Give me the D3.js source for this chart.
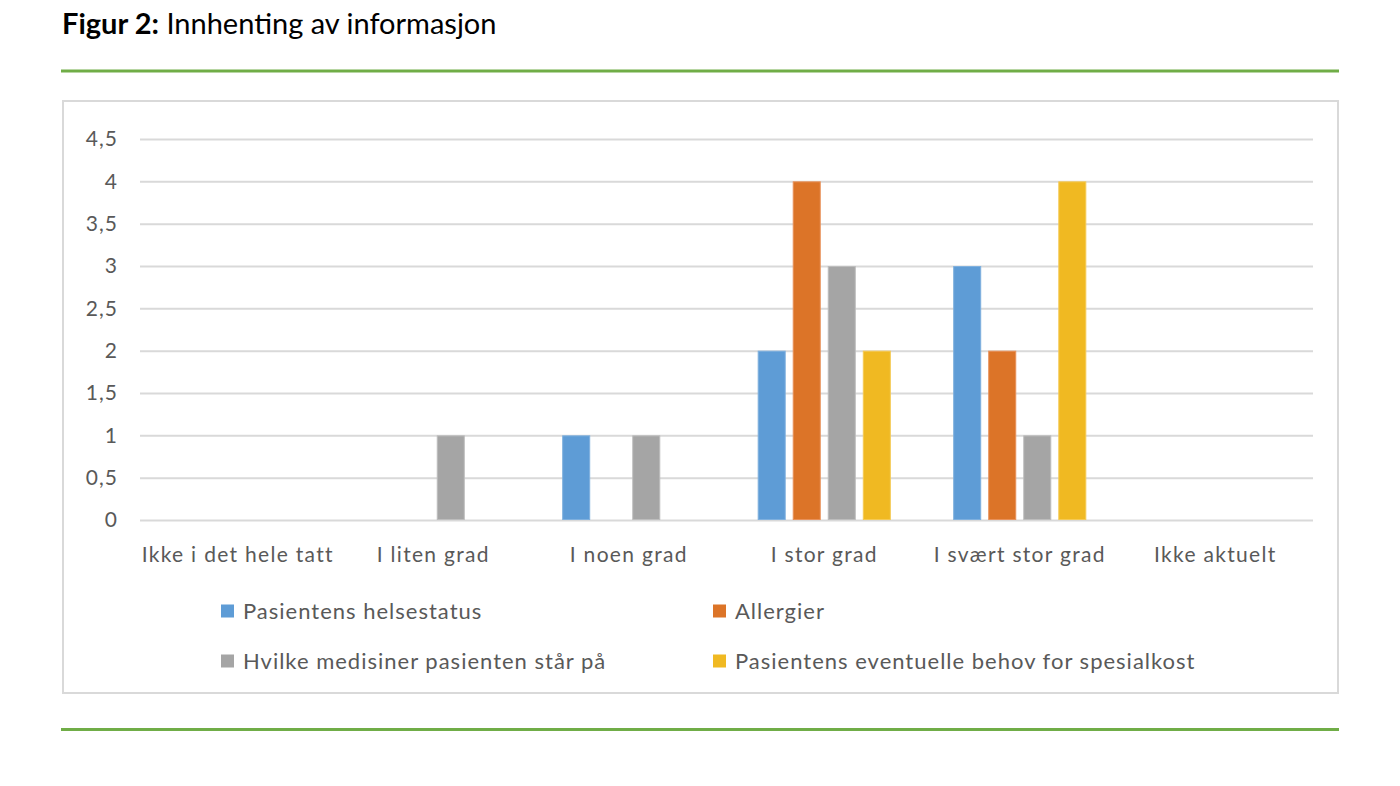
<!DOCTYPE html>
<html><head><meta charset="utf-8">
<script src="https://cdn.jsdelivr.net/npm/d3@7"></script>
<style>
html,body{margin:0;padding:0;background:#fff;}
svg{display:block;}
</style></head>
<body>
<svg id="chart" width="1400" height="786"></svg>
<script>
const categories = ["Ikke i det hele tatt","I liten grad","I noen grad","I stor grad","I svært stor grad","Ikke aktuelt"];
const seriesNames = ["Pasientens helsestatus","Allergier","Hvilke medisiner pasienten står på","Pasientens eventuelle behov for spesialkost"];
const helsestatus = [0,0,1,2,3,0];
const allergier = [0,0,0,4,2,0];
const medisiner = [0,1,1,3,1,0];
const spesialkost = [0,0,0,2,4,0];
const yTicks = [0,0.5,1,1.5,2,2.5,3,3.5,4,4.5];
const colors = ["#5E9CD6","#DC7428","#A5A5A5","#F0B922"];
const strokes = ["#7FB0DE","#E8915A","#BDBDBD","#F5CA55"];

const seriesValues = [helsestatus, allergier, medisiner, spesialkost];
const font = "Lato, 'Open Sans', sans-serif";
const svg = d3.select("#chart");

// Title
const title = svg.append("text").attr("x",62).attr("y",34).attr("font-family",font).attr("font-size",29).attr("fill","#000");
title.append("tspan").attr("font-weight","bold").text("Figur 2:");
title.append("tspan").text(" Innhenting av informasjon");

// green rules
svg.append("line").attr("x1",61).attr("x2",1339).attr("y1",71).attr("y2",71).attr("stroke","#70AD47").attr("stroke-width",3);
svg.append("line").attr("x1",61).attr("x2",1339).attr("y1",729.5).attr("y2",729.5).attr("stroke","#70AD47").attr("stroke-width",3);

// chart frame
svg.append("rect").attr("x",63).attr("y",101).attr("width",1275).attr("height",592).attr("fill","#fff").attr("stroke","#D9D9D9").attr("stroke-width",2);

const pLeft = 140, pRight = 1313, pTop = 139, pBottom = 520;
const x0 = d3.scaleBand().domain(categories).range([pLeft,pRight]).paddingInner(0).paddingOuter(0);
const x1 = d3.scaleBand().domain(seriesNames).range([0,x0.bandwidth()]).paddingInner(0.2).paddingOuter(0.89);
const y = d3.scaleLinear().domain([0,4.5]).range([pBottom,pTop]);
const fmt = d => String(d).replace(".",",");

// gridlines
const grid = svg.append("g").attr("transform",`translate(${pLeft},0)`)
  .call(d3.axisLeft(y).tickValues(yTicks).tickSize(-(pRight-pLeft)).tickFormat(""));
grid.select(".domain").remove();
grid.selectAll("line").attr("stroke","#D9D9D9").attr("stroke-width",2);

// y labels
const ya = svg.append("g").attr("transform",`translate(${pLeft},0)`)
  .call(d3.axisLeft(y).tickValues(yTicks).tickSize(0).tickPadding(22).tickFormat(fmt));
ya.select(".domain").remove();
ya.selectAll("text").attr("font-family",font).attr("font-size",21).attr("letter-spacing","1px").attr("fill","#595959");

// bars
const data = categories.map((c,i)=>({cat:c, vals: seriesNames.map((s,j)=>({s, j, v: seriesValues[j][i]}))}));
const groups = svg.append("g").selectAll("g").data(data).join("g").attr("transform",d=>`translate(${x0(d.cat)},0)`);
groups.selectAll("rect").data(d=>d.vals.filter(v=>v.v>0)).join("rect")
  .attr("x",d=>x1(d.s)+0.5).attr("width",x1.bandwidth()-1)
  .attr("y",d=>y(d.v)+0.5).attr("height",d=>y(0)-y(d.v)-1)
  .attr("fill",d=>colors[d.j]).attr("stroke",d=>strokes[d.j]).attr("stroke-width",1);

// category axis labels
const xa = svg.append("g").attr("transform",`translate(0,${pBottom})`)
  .call(d3.axisBottom(x0).tickSize(0).tickPadding(27));
xa.select(".domain").remove();
xa.selectAll("text").attr("font-family",font).attr("font-size",21).attr("letter-spacing","1.3px").attr("fill","#595959");

// legend
const legendPos = [[221,611],[713,611],[221,661],[713,661]];
const lg = svg.append("g").selectAll("g").data(seriesNames).join("g")
  .attr("transform",(d,i)=>`translate(${legendPos[i][0]},${legendPos[i][1]})`);
lg.append("rect").attr("x",0).attr("y",-6.5).attr("width",13).attr("height",13).attr("fill",(d,i)=>colors[i]);
lg.append("text").attr("x",22).attr("y",0).attr("dy","0.35em").attr("font-family",font).attr("font-size",22).attr("letter-spacing","1px").attr("fill","#595959").text(d=>d);
</script>
</body></html>
